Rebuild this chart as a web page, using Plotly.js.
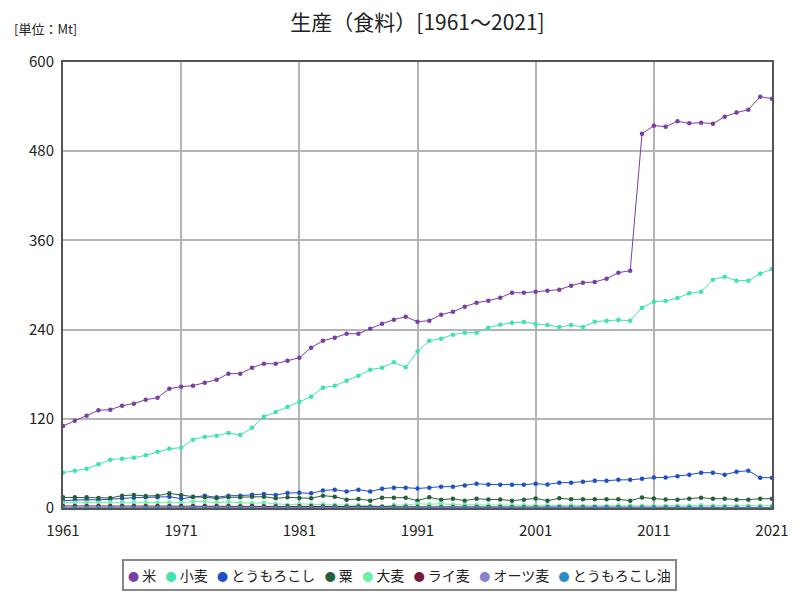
<!DOCTYPE html>
<html>
<head>
<meta charset="utf-8">
<script src="https://cdn.plot.ly/plotly-3.0.1.min.js"></script>
<style>html,body{margin:0;padding:0;background:#fff;}#chart{width:800px;height:600px;}</style>
</head>
<body>
<div id="chart"></div>
<script>
const years = [];
for (let y = 1961; y <= 2021; y++) years.push(y);

const seriesNames = ["米", "小麦", "とうもろこし", "粟", "大麦", "ライ麦", "オーツ麦", "とうもろこし油"];
const seriesColors = ["#7a3fa6", "#3de3b0", "#1f4fc8", "#265e3c", "#6cf0a6", "#741c38", "#8c7fd0", "#2a8cc6"];

const rice = [110.3,117.5,124.2,131.4,132.3,137.7,140.4,145.7,148.4,160.5,
  163.2,164.6,168.6,172.6,180.7,180.7,188.8,194.1,194.1,198.2,
  202.2,215.7,225.1,229.1,234.5,234.5,241.2,247.9,253.3,257.4,
  250.6,252.0,260.1,264.1,270.8,276.2,278.9,282.9,289.6,289.6,
  291.0,292.3,293.7,299.1,303.1,304.1,308.5,316.6,319.3,503.6,
  514.4,513.0,520.2,517.5,518.4,517.0,526.5,531.9,535.9,553.4,
  550.7];
const wheat = [47.5,50.2,52.9,58.8,65.0,66.4,67.7,70.9,75.7,79.8,
  81.1,91.9,95.9,97.3,100.9,98.2,108.0,122.8,129.2,135.9,
  142.6,149.7,161.8,164.5,171.3,178.0,186.1,188.8,196.0,189.3,
  210.5,225.1,227.8,233.2,235.9,235.9,242.6,246.6,249.3,250.2,
  247.5,246.2,243.5,246.2,243.5,250.6,252.0,252.9,252.0,269.5,
  277.6,278.5,282.5,288.8,291.0,307.2,311.2,305.8,305.8,315.2,
  321.5];
const maize = [9.9,10.8,11.2,10.8,12.1,13.0,13.9,14.3,14.3,15.2,
  12.5,14.8,16.6,14.3,16.6,16.6,17.9,18.8,17.5,20.2,
  20.4,19.7,23.5,24.7,22.2,24.7,22.2,26.0,27.4,27.4,
  26.2,27.4,28.7,28.7,30.2,32.7,31.6,31.4,31.4,31.4,
  32.7,31.6,34.1,34.1,35.4,36.7,36.7,37.9,37.9,39.2,
  40.9,41.0,42.6,44.8,47.5,47.5,44.8,48.8,50.2,40.8,
  40.8];
const millet = [14.3,14.3,14.3,13.5,13.5,16.6,17.5,16.1,16.6,19.7,
  17.0,15.2,14.3,13.0,14.3,14.3,15.2,15.2,13.0,14.3,
  13.6,13.0,16.6,15.2,11.2,12.1,9.9,13.9,13.9,13.9,
  9.9,14.3,11.2,12.5,9.9,12.5,11.5,11.5,9.9,11.2,
  12.8,9.9,13.0,11.7,11.7,11.7,11.7,11.7,9.9,14.1,
  12.8,11.4,11.2,12.5,13.9,12.5,12.5,11.2,11.2,12.5,
  12.5];
const barley = [7.2,7.2,7.4,7.2,7.6,7.6,7.8,7.6,7.4,7.8,
  7.2,8.5,8.5,7.2,8.0,7.2,6.3,7.2,5.4,4.5,
  5.4,5.0,4.9,4.5,4.0,4.0,3.1,2.2,4.0,4.0,
  5.8,5.0,5.8,4.5,4.5,4.0,4.0,3.6,3.6,3.6,
  3.6,3.6,3.1,3.6,3.1,3.1,3.1,3.6,3.1,3.1,
  3.1,3.1,3.1,3.1,3.6,3.1,3.1,3.1,3.1,3.1,
  3.1];
const rye = [2.8,2.8,2.7,2.8,2.8,2.7,2.8,2.8,2.7,2.8,
  2.7,2.6,2.7,2.6,2.6,2.5,2.6,2.5,2.4,2.4,
  2.2,2.2,2.1,2.0,2.0,1.9,1.8,1.8,1.7,1.7,
  1.6,1.5,1.5,1.4,1.3,1.3,1.2,1.2,1.1,1.1,
  1.0,1.0,1.0,0.9,0.9,0.9,0.9,0.9,0.8,0.8,
  0.8,0.8,0.8,0.8,0.8,0.8,0.8,0.7,0.7,0.7,
  0.7];
const oats = [0.3,0.3,0.3,0.3,0.3,0.3,0.3,0.3,0.3,0.3,
  0.3,0.3,0.3,0.3,0.3,0.3,0.3,0.3,0.3,0.3,
  0.2,0.2,0.2,0.2,0.2,0.2,0.2,0.2,0.2,0.2,
  0.2,0.2,0.2,0.2,0.2,0.2,0.2,0.2,0.2,0.2,
  0.2,0.2,0.2,0.2,0.2,0.2,0.2,0.2,0.2,0.2,
  0.2,0.2,0.2,0.2,0.2,0.2,0.2,0.2,0.2,0.2,
  0.2];
const cornOil = [0.1,0.1,0.1,0.1,0.1,0.1,0.1,0.1,0.1,0.1,
  0.1,0.1,0.1,0.1,0.1,0.1,0.1,0.1,0.1,0.1,
  0.1,0.1,0.1,0.1,0.1,0.1,0.1,0.1,0.1,0.1,
  0.1,0.1,0.1,0.1,0.1,0.1,0.1,0.1,0.1,0.1,
  0.1,0.1,0.1,0.1,0.1,0.1,0.1,0.1,0.1,0.1,
  0.1,0.1,0.1,0.1,0.1,0.1,0.1,0.1,0.1,0.1,
  0.1];

const seriesValues = [rice, wheat, maize, millet, barley, rye, oats, cornOil];
const xTicks = [1961, 1971, 1981, 1991, 2001, 2011, 2021];
const yTicks = [0, 120, 240, 360, 480, 600];

const font = "'Noto Sans CJK JP', 'Noto Sans', sans-serif";

const traces = seriesNames.map((name, i) => ({
  type: "scatter",
  mode: "lines+markers",
  name: name,
  x: years,
  y: seriesValues[i],
  line: {color: seriesColors[i], width: 1},
  marker: {color: seriesColors[i], size: 4.5},
  cliponaxis: false,
  showlegend: false
}));

// compact legend built from the series names and colours
const legendText = seriesNames.map((n, i) =>
  '<span style="color:' + seriesColors[i] + ';font-size:11px">●</span>&nbsp;' + n
).join('&nbsp;&nbsp;&nbsp;');

const layout = {
  width: 800, height: 600,
  paper_bgcolor: "#ffffff", plot_bgcolor: "#ffffff",
  margin: {l: 63, r: 28, t: 62, b: 92},
  font: {family: font, size: 14, color: "#222"},
  title: {text: "生産（食料）[1961～2021]", x: 0.5, xref: "paper", xanchor: "center", y: 0.963, yanchor: "middle",
    font: {family: font, size: 21, color: "#222"}},
  showlegend: false,
  xaxis: {range: [1961, 2021], tickvals: xTicks, ticktext: xTicks.map(String), showgrid: true,
    gridcolor: "#b4b4b4", gridwidth: 2, zeroline: false, showline: true, linecolor: "#555", linewidth: 2,
    mirror: true, ticks: "", ticklabelstandoff: 8, tickfont: {size: 15, family: font, color: "#222"}},
  yaxis: {range: [0, 600], tickvals: yTicks, ticktext: yTicks.map(String), showgrid: true,
    gridcolor: "#b4b4b4", gridwidth: 2, zeroline: false, showline: true, linecolor: "#555", linewidth: 2,
    mirror: true, ticks: "", ticklabelstandoff: 4, tickfont: {size: 15, family: font, color: "#222"}},
  annotations: [
    {text: "[単位：Mt]", xref: "paper", yref: "paper", x: -0.072, y: 1.075, xanchor: "left", yanchor: "middle",
      showarrow: false, font: {family: font, size: 13, color: "#222"}},
    {text: legendText, xref: "paper", yref: "paper", x: 0.4753, y: -0.150, xanchor: "center", yanchor: "middle",
      showarrow: false, bordercolor: "#888", borderwidth: 2, borderpad: 4, bgcolor: "#fff",
      font: {family: font, size: 14, color: "#222"}}
  ]
};

Plotly.newPlot("chart", traces, layout, {displayModeBar: false, staticPlot: true});
</script>
</body>
</html>
